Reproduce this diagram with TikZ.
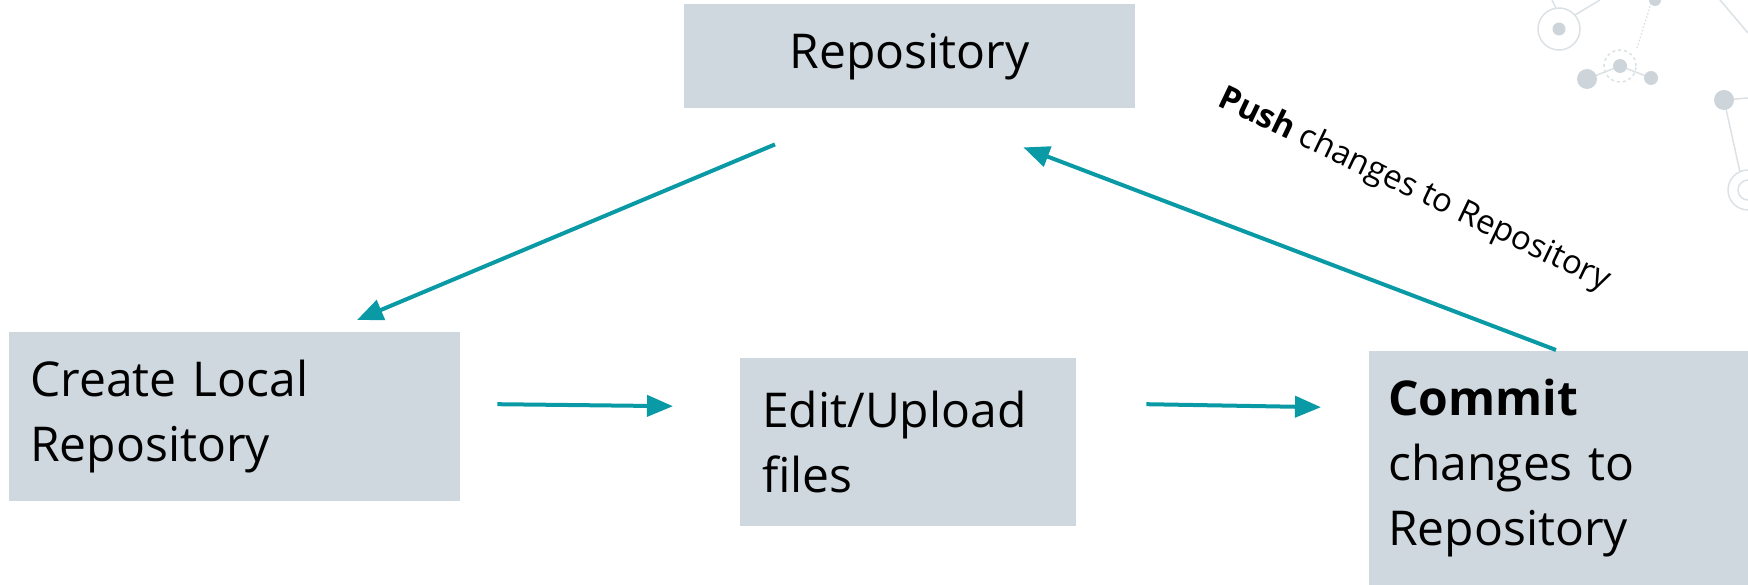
\documentclass[tikz,border=0pt]{standalone}
\usepackage{fontspec}
\setmainfont{Open Sans}
\usetikzlibrary{arrows.meta,calc}
\definecolor{boxfill}{HTML}{CFD8DE}
\definecolor{tealc}{HTML}{0A9AA6}
\definecolor{deco}{HTML}{CDD5DB}
\definecolor{decoline}{HTML}{DCE1E5}
\begin{document}
\begin{tikzpicture}[x=1pt,y=-1pt,
  box/.style={fill=boxfill, draw=none, inner ysep=0pt, anchor=north west,
    font=\fontsize{48}{65}\selectfont, align=left},
  flow/.style={draw=tealc, line width=4pt, -{Triangle[length=26pt,width=21pt]}},
  dline/.style={draw=decoline, line width=1.5pt},
  dfill/.style={fill=deco}]
\useasboundingbox (0,0) rectangle (1748,585);
% background decoration
\draw[dline] (1559,29) circle (21pt);
\fill[dfill] (1559,29) circle (6.5pt);
\draw[dline] (1556,8) -- (1552,0);
\draw[dline] (1575,15) -- (1600,0);
\draw[dline, dotted] (1637,48) -- (1652,0);
\fill[dfill] (1655,0) circle (6pt);
\draw[dline, dashed] (1620,66) circle (16pt);
\draw[dline] (1587,79) -- (1620,66) -- (1651,78);
\fill[dfill] (1620,66) circle (7pt);
\fill[dfill] (1587,79) circle (10pt);
\fill[dfill] (1651,78) circle (7pt);
\draw[dline] (1720,0) -- (1748,33);
\draw[dline] (1724,100) -- (1748,98);
\draw[dline] (1724,100) -- (1740,172);
\fill[dfill] (1724,100) circle (10pt);
\draw[dline] (1748,190) circle (20pt);
\draw[dline] (1748,190) circle (10pt);
% boxes
\node[box, align=center, minimum width=451pt, minimum height=104pt, inner xsep=0pt] (repo) at (684,4) {Repository};
\node[box, text width=409pt, inner xsep=21pt, minimum height=169pt] (create) at (9,332) {Create Local\\Repository};
\node[box, text width=292pt, inner xsep=22pt, minimum height=168pt] (edit) at (740,358) {Edit/Upload\\files};
\node[box, text width=341pt, inner xsep=19pt, minimum height=234pt] (commit) at (1369,351) {\textbf{Commit}\\changes to\\Repository};
% label
\node[rotate=-25.5, font=\fontsize{33}{38}\selectfont, inner sep=0pt] (pushlbl) at (1414,190) {\textbf{Push} changes to Repository};
% connector ends
\coordinate (r1) at ($(repo.south west)+(91,36)$);
\coordinate (c1) at ($(create.north west)+(348,-12)$);
\coordinate (c2) at ($(create.east)+(37,-12.5)$);
\coordinate (e1) at ($(edit.west)+(-67,-36)$);
\coordinate (e2) at ($(edit.east)+(70,-38)$);
\coordinate (m1) at ($(commit.west)+(-48,-61)$);
\coordinate (m2) at ($(commit.north west)+(187,-1)$);
\coordinate (r2) at ($(repo.south east)+(-112,39)$);
\draw[flow] (r1) -- (c1);
\draw[flow] (c2) -- (e1);
\draw[flow] (e2) -- (m1);
\draw[flow] (m2) -- (r2);
\end{tikzpicture}
\end{document}
